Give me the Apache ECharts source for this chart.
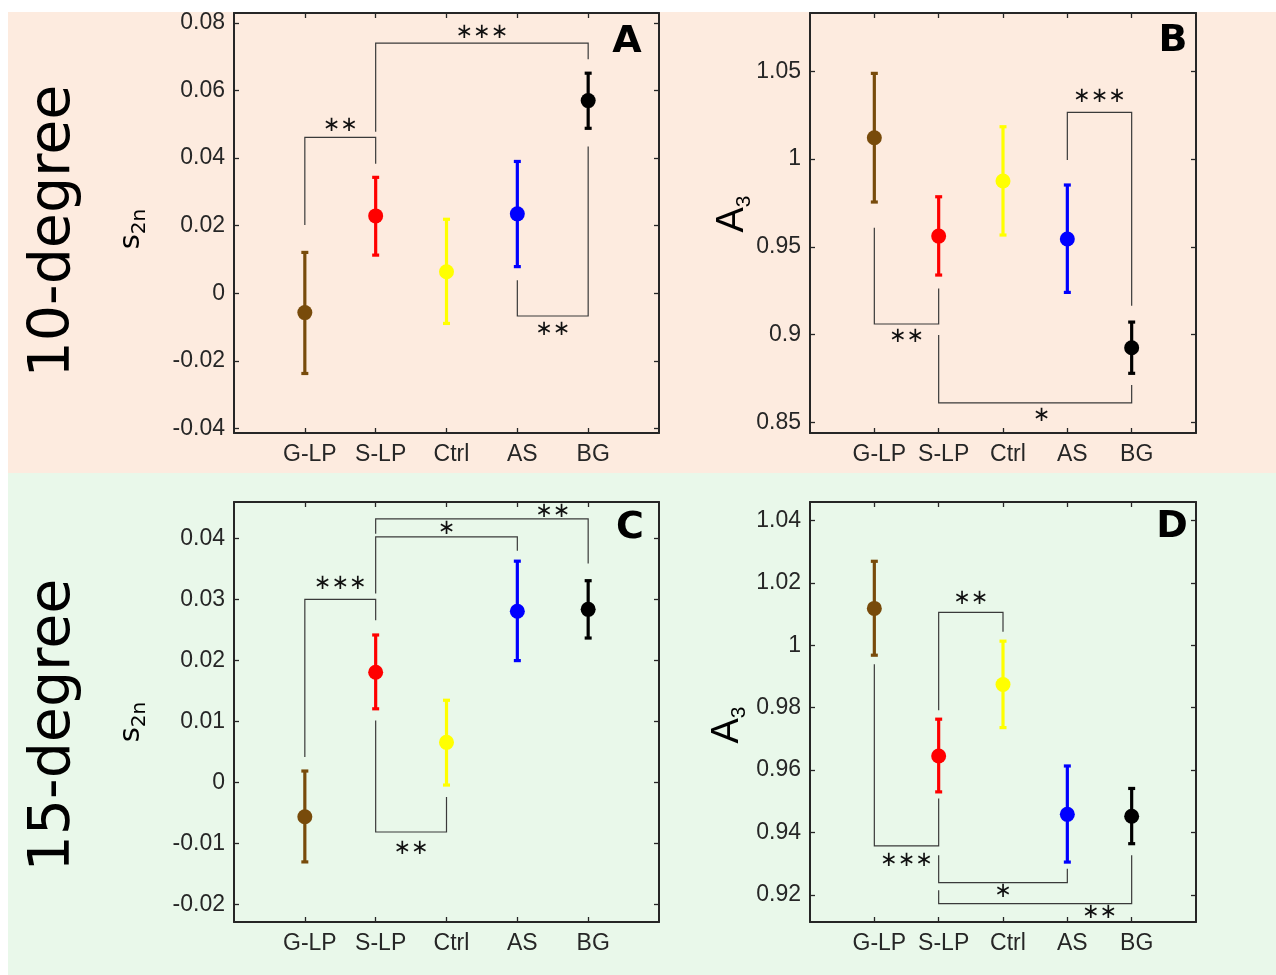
<!DOCTYPE html>
<html>
<head>
<meta charset="utf-8">
<script src="https://cdn.jsdelivr.net/npm/echarts@6.0.0/dist/echarts.min.js"></script>
<style>
    html, body { margin: 0; padding: 0; background: #ffffff; }
    #Echarts { width: 1276px; height: 975px; }
</style>
</head>
<body>
<div id="Echarts"></div>
<script>
// groups (x positions 1..5 on a 0..6 axis)
var categories = ['G-LP', 'S-LP', 'Ctrl', 'AS', 'BG'];
var groupColors = ['#784b0b', '#ff0000', '#ffff00', '#0000ff', '#000000'];

// A: s2n, 10-degree
var meanA = [-0.0057, 0.0229, 0.0064, 0.0235, 0.0570];
var lowA = [-0.0237, 0.0113, -0.0089, 0.0079, 0.0488];
var highA = [0.0121, 0.0343, 0.0219, 0.0390, 0.0651];
var ticksA = [-0.04, -0.02, 0, 0.02, 0.04, 0.06, 0.08];
// brackets: [from, to, level, leg end at from, leg end at to, star x, star y]
var bracketsA = [
    [1, 2, 0.0461, 0.0202, 0.0383, 1.5, 0.0495],
    [2, 5, 0.0740, 0.0478, 0.0692, 3.5, 0.0770],
    [4, 5, -0.0067, 0.0039, 0.0434, 4.5, -0.0106]
];
var starsA = ['**', '***', '**'];

// B: A3, 10-degree
var meanB = [1.0121, 0.9561, 0.9875, 0.9544, 0.8925];
var lowB = [0.9755, 0.9339, 0.9567, 0.9240, 0.8779];
var highB = [1.0488, 0.9785, 1.0184, 0.9852, 0.9071];
var ticksB = [0.85, 0.9, 0.95, 1, 1.05];
var bracketsB = [
    [1, 2, 0.9060, 0.9609, 0.9263, 1.5, 0.8986],
    [4, 5, 1.0266, 0.9994, 0.9164, 4.5, 1.0355],
    [2, 5, 0.8611, 0.8997, 0.8712, 3.6, 0.8541]
];
var starsB = ['**', '***', '*'];

// C: s2n, 15-degree
var meanC = [-0.0056, 0.0181, 0.0066, 0.0281, 0.0284];
var lowC = [-0.0130, 0.0121, -0.0004, 0.0200, 0.0237];
var highC = [0.0019, 0.0242, 0.0135, 0.0363, 0.0331];
var ticksC = [-0.02, -0.01, 0, 0.01, 0.02, 0.03, 0.04];
var bracketsC = [
    [1, 2, 0.03005, 0.0042, 0.0266, 1.5, 0.0326],
    [2, 4, 0.04027, 0.0310, 0.0380, 3.0, 0.0417],
    [2, 5, 0.04322, 0.0408, 0.0359, 4.5, 0.04436],
    [2, 3, -0.0081, 0.0102, -0.00236, 2.5, -0.0108]
];
var starsC = ['***', '*', '**', '**'];

// D: A3, 15-degree
var meanD = [1.0118, 0.9645, 0.9874, 0.9458, 0.9452];
var lowD = [0.9968, 0.9530, 0.9736, 0.9305, 0.9364];
var highD = [1.0269, 0.9763, 1.0013, 0.9613, 0.9541];
var ticksD = [0.92, 0.94, 0.96, 0.98, 1, 1.02, 1.04];
var bracketsD = [
    [1, 2, 0.9357, 0.9939, 0.9509, 1.5, 0.9311],
    [2, 3, 1.0105, 0.9792, 1.0043, 2.5, 1.0150],
    [2, 4, 0.9239, 0.9327, 0.9284, 3.0, 0.9209],
    [2, 5, 0.9172, 0.9215, 0.9327, 4.5, 0.9143]
];
var starsD = ['***', '**', '*', '**'];

var axisColor = '#262626';
var labelFont = 'Liberation Sans';

function renderErrorBar (params, api) {
    var x = api.value(0);
    var lo = api.coord([x, api.value(1)]);
    var hi = api.coord([x, api.value(2)]);
    var style = { stroke: groupColors[params.dataIndex], lineWidth: 3.2, fill: 'none' };
    var cap = 3.5;
    return {
        type: 'group',
        children: [
            { type: 'line', shape: { x1: lo[0], y1: lo[1], x2: hi[0], y2: hi[1] }, style: style },
            { type: 'line', shape: { x1: hi[0] - cap, y1: hi[1], x2: hi[0] + cap, y2: hi[1] }, style: style },
            { type: 'line', shape: { x1: lo[0] - cap, y1: lo[1], x2: lo[0] + cap, y2: lo[1] }, style: style }
        ]
    };
}

function bracketRender (stars) {
    return function (params, api) {
        var x1 = api.value(0), x2 = api.value(1);
        var p1 = api.coord([x1, api.value(3)]);
        var p2 = api.coord([x1, api.value(2)]);
        var p3 = api.coord([x2, api.value(2)]);
        var p4 = api.coord([x2, api.value(4)]);
        var t = api.coord([api.value(5), api.value(6)]);
        return {
            type: 'group',
            children: [
                {
                    type: 'polyline',
                    shape: { points: [p1, p2, p3, p4] },
                    style: { stroke: '#3a3a3a', lineWidth: 1.2, fill: 'none' }
                },
                {
                    type: 'text',
                    x: t[0],
                    y: t[1],
                    style: {
                        text: stars[params.dataIndex].replace(/\*/g, '\u2217'),
                        fill: '#111111',
                        font: '21px "DejaVu Sans"',
                        align: 'center',
                        verticalAlign: 'middle'
                    }
                }
            ]
        };
    };
}

function fmtTick (v) {
    return String(parseFloat(v.toFixed(4)));
}

var grids = [];
var xAxes = [];
var yAxes = [];
var seriesList = [];

function addPanel (box, yMin, yMax, ticks, means, lows, highs, brackets, stars) {
    var gi = grids.length;
    grids.push({ left: box[0], top: box[1], width: box[2], height: box[3], show: false });

    var lineStyle = { color: axisColor, width: 2 };
    var tickStyle = { show: true, inside: true, length: 5, lineStyle: { color: axisColor, width: 1.3 } };

    xAxes.push({
        gridIndex: gi, type: 'value', min: 0, max: 6, position: 'bottom',
        axisLine: { show: true, onZero: false, lineStyle: lineStyle },
        axisTick: Object.assign({ customValues: [1, 2, 3, 4, 5] }, tickStyle),
        splitLine: { show: false },
        axisLabel: {
            customValues: [1, 2, 3, 4, 5],
            margin: 10,
            padding: [0, 0, 0, 10],
            fontFamily: labelFont, fontSize: 23, color: '#262626',
            formatter: function (v) { return categories[Math.round(v) - 1] || ''; }
        }
    });
    xAxes.push({
        gridIndex: gi, type: 'value', min: 0, max: 6, position: 'top',
        axisLine: { show: true, onZero: false, lineStyle: lineStyle },
        axisTick: Object.assign({ customValues: [1, 2, 3, 4, 5] }, tickStyle),
        splitLine: { show: false },
        axisLabel: { show: false }
    });
    yAxes.push({
        gridIndex: gi, type: 'value', min: yMin, max: yMax, position: 'left',
        axisLine: { show: true, onZero: false, lineStyle: lineStyle },
        axisTick: Object.assign({ customValues: ticks }, tickStyle),
        splitLine: { show: false },
        axisLabel: {
            customValues: ticks,
            margin: 9,
            fontFamily: labelFont, fontSize: 23, color: '#262626',
            formatter: fmtTick
        }
    });
    yAxes.push({
        gridIndex: gi, type: 'value', min: yMin, max: yMax, position: 'right',
        axisLine: { show: true, onZero: false, lineStyle: lineStyle },
        axisTick: Object.assign({ customValues: ticks }, tickStyle),
        splitLine: { show: false },
        axisLabel: { show: false }
    });

    var barData = [];
    var meanData = [];
    for (var i = 0; i < categories.length; i++) {
        barData.push([i + 1, lows[i], highs[i]]);
        meanData.push([i + 1, means[i]]);
    }

    seriesList.push({
        type: 'custom',
        xAxisIndex: gi * 2, yAxisIndex: gi * 2,
        renderItem: renderErrorBar,
        data: barData,
        silent: true,
        z: 3
    });
    seriesList.push({
        type: 'scatter',
        xAxisIndex: gi * 2, yAxisIndex: gi * 2,
        data: meanData,
        symbol: 'circle',
        symbolSize: 15,
        silent: true,
        itemStyle: {
            opacity: 1,
            color: function (p) { return groupColors[p.dataIndex]; }
        },
        z: 4
    });
    seriesList.push({
        type: 'custom',
        xAxisIndex: gi * 2, yAxisIndex: gi * 2,
        renderItem: bracketRender(stars),
        data: brackets,
        silent: true,
        z: 5
    });
}

addPanel([234, 13, 425, 420], -0.0413, 0.0829, ticksA, meanA, lowA, highA, bracketsA, starsA);
addPanel([810, 13, 386, 420], 0.8439, 1.0832, ticksB, meanB, lowB, highB, bracketsB, starsB);
addPanel([234, 502, 425, 420], -0.02285, 0.0460, ticksC, meanC, lowC, highC, bracketsC, starsC);
addPanel([810, 502, 386, 420], 0.9113, 1.0459, ticksD, meanD, lowD, highD, bracketsD, starsD);

function rotatedText (x, y, text, font) {
    return {
        type: 'text', x: x, y: y, rotation: Math.PI / 2, z: 100,
        style: { text: text, font: font, fill: '#000000', align: 'center', verticalAlign: 'middle' }
    };
}

function s2nTitle (x, y) {
    return {
        type: 'text', x: x, y: y, rotation: Math.PI / 2, z: 100,
        style: {
            text: '{m|s}{b|2n}',
            align: 'center', verticalAlign: 'middle',
            rich: {
                m: { font: '29px "DejaVu Sans"', fill: '#000', lineHeight: 30 },
                b: { font: '20px "DejaVu Sans"', fill: '#000', lineHeight: 20, padding: [18, 0, 0, 0] }
            }
        }
    };
}

function a3Title (x, y) {
    return {
        type: 'text', x: x, y: y, rotation: Math.PI / 2, z: 100,
        style: {
            text: '{m|A}{b|3}',
            align: 'center', verticalAlign: 'middle',
            rich: {
                m: { font: '38px "Liberation Sans"', fill: '#000', lineHeight: 38 },
                b: { font: '21px "Liberation Sans"', fill: '#000', lineHeight: 21, padding: [22, 0, 0, 0] }
            }
        }
    };
}

function panelLetter (x, y, letter) {
    return {
        type: 'text', x: x, y: y, z: 100,
        style: {
            text: letter, font: 'bold 38px "DejaVu Sans"', fill: '#000',
            align: 'center', verticalAlign: 'middle'
        }
    };
}

var myChart = echarts.init(document.getElementById('Echarts'), null, { width: 1276, height: 975 });

var option = {
    animation: false,
    backgroundColor: '#ffffff',
    graphic: {
        elements: [
            { type: 'rect', z: -100, shape: { x: 8, y: 12, width: 1268, height: 461 }, style: { fill: '#fdebdf' } },
            { type: 'rect', z: -100, shape: { x: 8, y: 473, width: 1268, height: 502 }, style: { fill: '#e9f8ea' } },
            rotatedText(54, 231, '10-degree', '57px "DejaVu Sans"'),
            rotatedText(54, 725, '15-degree', '57px "DejaVu Sans"'),
            s2nTitle(131, 229),
            s2nTitle(131, 722),
            a3Title(733, 214),
            a3Title(728, 725),
            panelLetter(627, 42, 'A'),
            panelLetter(1173, 41, 'B'),
            panelLetter(630, 528, 'C'),
            panelLetter(1172, 527, 'D')
        ]
    },
    grid: grids,
    xAxis: xAxes,
    yAxis: yAxes,
    series: seriesList
};

myChart.setOption(option);
</script>
</body>
</html>
